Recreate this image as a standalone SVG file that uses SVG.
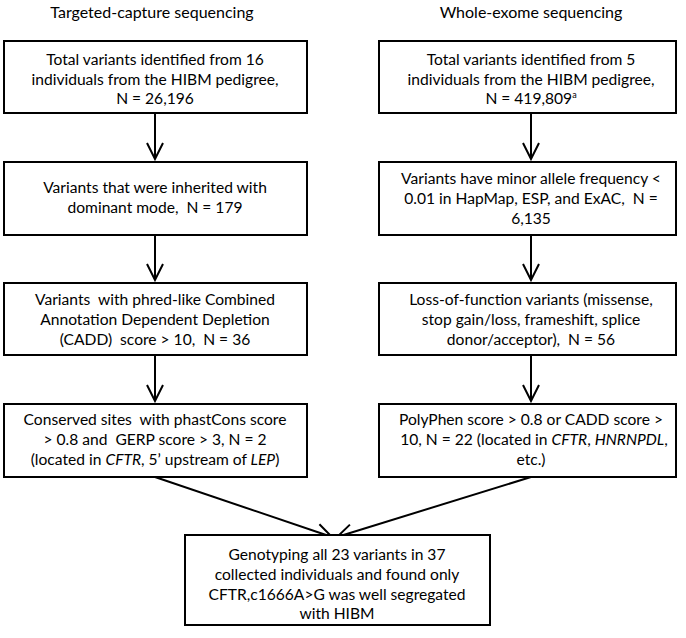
<svg xmlns="http://www.w3.org/2000/svg" width="686" height="638" viewBox="0 0 686 638">
<style>
  .box { fill: #ffffff; stroke: #000000; stroke-width: 2; }
  .t { font-family: Lato, "Open Sans", "Liberation Sans", sans-serif; font-size: 15.6px; fill: #000000; text-anchor: middle; white-space: pre; }
  .h { font-size: 16px; }
  .edge { stroke: #000000; stroke-width: 2; fill: none; }
</style>
<defs>
  <marker id="arr" viewBox="0 0 20 20" refX="18" refY="10" markerWidth="20" markerHeight="20" markerUnits="userSpaceOnUse" orient="auto">
    <path d="M2,2 L18,10 L2,18" fill="none" stroke="#000000" stroke-width="2"/>
  </marker>
</defs>
<rect width="686" height="638" fill="#ffffff"/>
<text class="t h" x="152" y="18">Targeted-capture sequencing</text>
<text class="t h" x="531" y="18">Whole-exome sequencing</text>

<g id="connectors">
  <line class="edge" x1="155" y1="113" x2="155" y2="159" marker-end="url(#arr)"/>
  <line class="edge" x1="155" y1="235" x2="155" y2="280" marker-end="url(#arr)"/>
  <line class="edge" x1="155" y1="355" x2="155" y2="401" marker-end="url(#arr)"/>
  <line class="edge" x1="531" y1="113" x2="531" y2="159" marker-end="url(#arr)"/>
  <line class="edge" x1="531" y1="235" x2="531" y2="280" marker-end="url(#arr)"/>
  <line class="edge" x1="531" y1="355" x2="531" y2="401" marker-end="url(#arr)"/>
  <line class="edge" x1="155" y1="477" x2="332" y2="537" marker-end="url(#arr)"/>
  <line class="edge" x1="531" y1="477" x2="337" y2="537" marker-end="url(#arr)"/>
</g>

<g id="l1">
  <rect class="box" x="4" y="41" width="303" height="72"/>
  <text class="t" x="155" y="65">Total variants identified from 16</text>
  <text class="t" x="155" y="85">individuals from the HIBM pedigree,</text>
  <text class="t" x="155" y="104">N = 26,196</text>
</g>
<g id="l2">
  <rect class="box" x="4" y="162" width="303" height="73"/>
  <text class="t" x="155" y="193">Variants that were inherited with</text>
  <text class="t" x="155" y="213">dominant mode,  N = 179</text>
</g>
<g id="l3">
  <rect class="box" x="4" y="283" width="303" height="72"/>
  <text class="t" x="155" y="305">Variants  with phred-like Combined</text>
  <text class="t" x="155" y="325">Annotation Dependent Depletion</text>
  <text class="t" x="155" y="345">(CADD)  score &gt; 10,  N = 36</text>
</g>
<g id="l4">
  <rect class="box" x="4" y="404" width="303" height="73"/>
  <text class="t" x="155" y="425">Conserved sites  with phastCons score</text>
  <text class="t" x="155" y="445">&gt; 0.8 and  GERP score &gt; 3, N = 2</text>
  <text class="t" x="155" y="465">(located in <tspan font-style="italic">CFTR</tspan>, 5’ upstream of <tspan font-style="italic">LEP</tspan>)</text>
</g>

<g id="r1">
  <rect class="box" x="379" y="41" width="297" height="72"/>
  <text class="t" x="531" y="65">Total variants identified from 5</text>
  <text class="t" x="531" y="85">individuals from the HIBM pedigree,</text>
  <text class="t" x="531" y="104">N = 419,809<tspan font-size="9" dy="-6">a</tspan></text>
</g>
<g id="r2">
  <rect class="box" x="379" y="162" width="297" height="73"/>
  <text class="t" x="531" y="184">Variants have minor allele frequency &lt;</text>
  <text class="t" x="531" y="204">0.01 in HapMap, ESP, and ExAC,  N =</text>
  <text class="t" x="531" y="224">6,135</text>
</g>
<g id="r3">
  <rect class="box" x="379" y="283" width="297" height="72"/>
  <text class="t" x="531" y="305">Loss-of-function variants (missense,</text>
  <text class="t" x="531" y="325">stop gain/loss, frameshift, splice</text>
  <text class="t" x="531" y="345">donor/acceptor),  N = 56</text>
</g>
<g id="r4">
  <rect class="box" x="379" y="404" width="297" height="73"/>
  <text class="t" x="531" y="425">PolyPhen score &gt; 0.8 or CADD score &gt;</text>
  <text class="t" x="534" y="445">10, N = 22 (located in <tspan font-style="italic">CFTR</tspan>, <tspan font-style="italic">HNRNPDL</tspan>,</text>
  <text class="t" x="531" y="465">etc.)</text>
</g>

<g id="final">
  <rect class="box" x="185" y="535" width="305" height="90"/>
  <text class="t" x="337" y="560">Genotyping all 23 variants in 37</text>
  <text class="t" x="337" y="580">collected individuals and found only</text>
  <text class="t" x="337" y="600">CFTR,c1666A&gt;G was well segregated</text>
  <text class="t" x="337" y="619">with HIBM</text>
</g>
</svg>
